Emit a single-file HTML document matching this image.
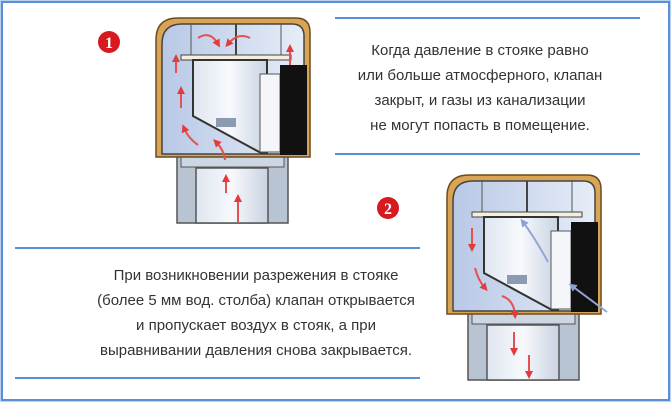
<!DOCTYPE html>
<html><head><meta charset="utf-8"><style>
html,body{margin:0;padding:0;background:#fff;}
body{width:671px;height:403px;position:relative;overflow:hidden;font-family:"Liberation Sans","DejaVu Sans",sans-serif;}
.frame{position:absolute;left:1px;top:1px;width:665px;height:396px;border:2px solid #5b8fd4;box-shadow:0 0 0 1px #b9d0ee;}
.t{position:absolute;font-size:15px;color:#333;text-align:center;line-height:25px;}
.hl{position:absolute;height:2px;background:#5b8fd4;}
</style></head><body>
<div class="frame"></div>
<div class="hl" style="left:335px;top:17px;width:305px"></div>
<div class="hl" style="left:335px;top:153px;width:305px"></div>
<div class="hl" style="left:15px;top:247px;width:405px"></div>
<div class="hl" style="left:15px;top:377px;width:405px"></div>
<div class="t" style="left:330px;top:38px;width:300px">Когда давление в стояке равно<br>или больше атмосферного, клапан<br>закрыт, и газы из канализации<br>не могут попасть в помещение.</div>
<div class="t" style="left:80px;top:263px;width:352px">При возникновении разрежения в стояке<br>(более 5 мм вод. столба) клапан открывается<br>и пропускает воздух в стояк, а при<br>выравнивании давления снова закрывается.</div>
<svg width="671" height="403" style="position:absolute;left:0;top:0">
<defs>
<linearGradient id="bl" x1="0" x2="1"><stop offset="0" stop-color="#b8c8e6"/><stop offset="1" stop-color="#e6edf7"/></linearGradient>
<linearGradient id="cy" x1="0" x2="1"><stop offset="0" stop-color="#dfe6f0"/><stop offset="0.5" stop-color="#f7f9fc"/><stop offset="1" stop-color="#c9d3e2"/></linearGradient>
<g id="valve">
<rect x="21" y="132" width="111" height="73" fill="#b9c4d3" stroke="#555" stroke-width="1.5"/>
<rect x="40" y="150" width="72" height="55" fill="url(#cy)" stroke="#555" stroke-width="1.5"/>
<rect x="25" y="135" width="103" height="14" fill="#cdd7e4" stroke="#555"/>
<path d="M0 139 V22 Q0 0 22 0 H140 Q154 0 154 14 V139 Z" fill="#d9a554" stroke="#6b4a20" stroke-width="1.5"/>
<path d="M6 136 V26 Q6 6 26 6 H136 Q148 6 148 18 V136 Z" fill="url(#bl)" stroke="#444" stroke-width="1.5"/>
<rect x="25" y="37" width="110" height="5" fill="#f4f0dc" stroke="#444"/>
<line x1="80" y1="6" x2="80" y2="37" stroke="#444" stroke-width="2"/>
<line x1="35" y1="6" x2="35" y2="37" stroke="#555"/><line x1="125" y1="6" x2="125" y2="37" stroke="#555"/>
<path d="M37 42 H111 V135 H105 L37 98 Z" fill="url(#cy)" stroke="#333" stroke-width="2"/>
<rect x="104" y="56" width="20" height="78" fill="#f4f6fa" stroke="#555"/>
<rect x="124" y="47" width="27" height="90" fill="#111"/>
<rect x="60" y="100" width="20" height="9" fill="#8d9bb0"/>
</g>
<marker id="ar" viewBox="0 0 10 10" refX="5" refY="5" markerWidth="4" markerHeight="4" orient="auto"><path d="M0 0L10 5L0 10Z" fill="#e23b3b"/></marker>
<marker id="ab" viewBox="0 0 10 10" refX="5" refY="5" markerWidth="4" markerHeight="4" orient="auto"><path d="M0 0L10 5L0 10Z" fill="#8aa0d8"/></marker>
</defs>
<use href="#valve" x="156" y="18"/>
<use href="#valve" x="447" y="175"/>
<g stroke="#e75050" stroke-width="2" fill="none" marker-end="url(#ar)">
<path d="M238 222 V198"/><path d="M226 193 V178"/><path d="M225 160 Q224 150 216 142"/>
<path d="M198 145 Q188 138 184 128"/><path d="M181 108 V90"/><path d="M176 73 V58"/>
<path d="M198 38 Q210 30 218 44"/><path d="M250 38 Q238 32 228 44"/><path d="M290 65 V48"/>
</g>
<g stroke="#e75050" stroke-width="2" fill="none" marker-end="url(#ar)">
<path d="M472 228 V248"/><path d="M475 268 Q478 280 485 288"/><path d="M502 296 Q514 300 515 315"/>
<path d="M514 332 V352"/><path d="M529 355 V375"/>
</g>
<g stroke="#93a6d6" stroke-width="2" fill="none" marker-end="url(#ab)">
<path d="M548 262 Q535 238 523 222"/><path d="M607 312 L572 286"/>
</g>
<circle cx="109" cy="42" r="11" fill="#d71920"/>
<text x="109" y="48" font-family="Liberation Serif,serif" font-weight="bold" font-size="16" fill="#fff" text-anchor="middle">1</text>
<circle cx="388" cy="208" r="11" fill="#d71920"/>
<text x="388" y="214" font-family="Liberation Serif,serif" font-weight="bold" font-size="16" fill="#fff" text-anchor="middle">2</text>
</svg>
</body></html>
